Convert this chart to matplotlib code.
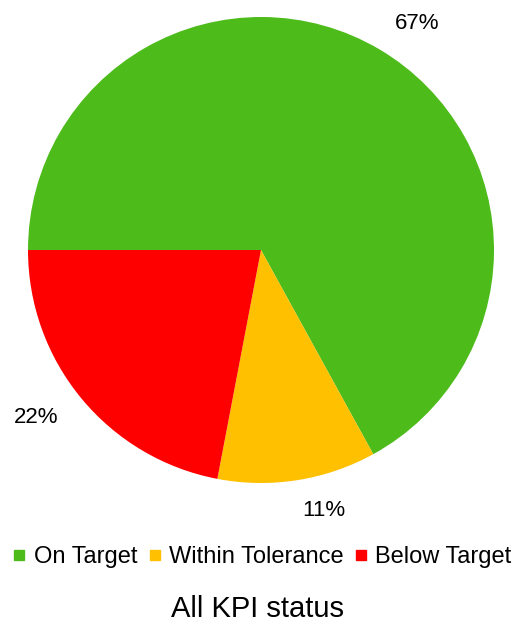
import matplotlib
matplotlib.use("Agg")
import matplotlib.pyplot as plt
from matplotlib.lines import Line2D

plt.rcParams['font.family'] = ['Liberation Sans', 'DejaVu Sans']

categories = ["On Target", "Within Tolerance", "Below Target"]
values = [67, 11, 22]
colors = ["#4DBB1A", "#FFC000", "#FF0000"]
title = "All KPI status"

fig = plt.figure(figsize=(5.15, 6.27), dpi=100)
ax = fig.add_axes([28/515, (627-483)/627, 466/515, 466/627])
wedges, texts = ax.pie(values, colors=colors, startangle=180, counterclock=False,
                       labels=[f"{v}%" for v in values], labeldistance=1.13,
                       textprops=dict(fontsize=16, color="#000000"))
ax.set_xlim(-1, 1)
ax.set_ylim(-1, 1)
ax.set_aspect('equal')

handles = [Line2D([0], [0], marker='s', linestyle='none', markersize=7.5,
                  markerfacecolor=c, markeredgecolor=c) for c in colors]
fig.legend(handles, categories, loc='center', bbox_to_anchor=(0.51, 1 - 557/627),
           ncol=3, frameon=False, fontsize=17, handlelength=0.5,
           handletextpad=0.35, columnspacing=0.5)
fig.text(0.5, 1 - 609/627, title, ha='center', va='center', fontsize=21)

fig.savefig("out.png", dpi=100)
